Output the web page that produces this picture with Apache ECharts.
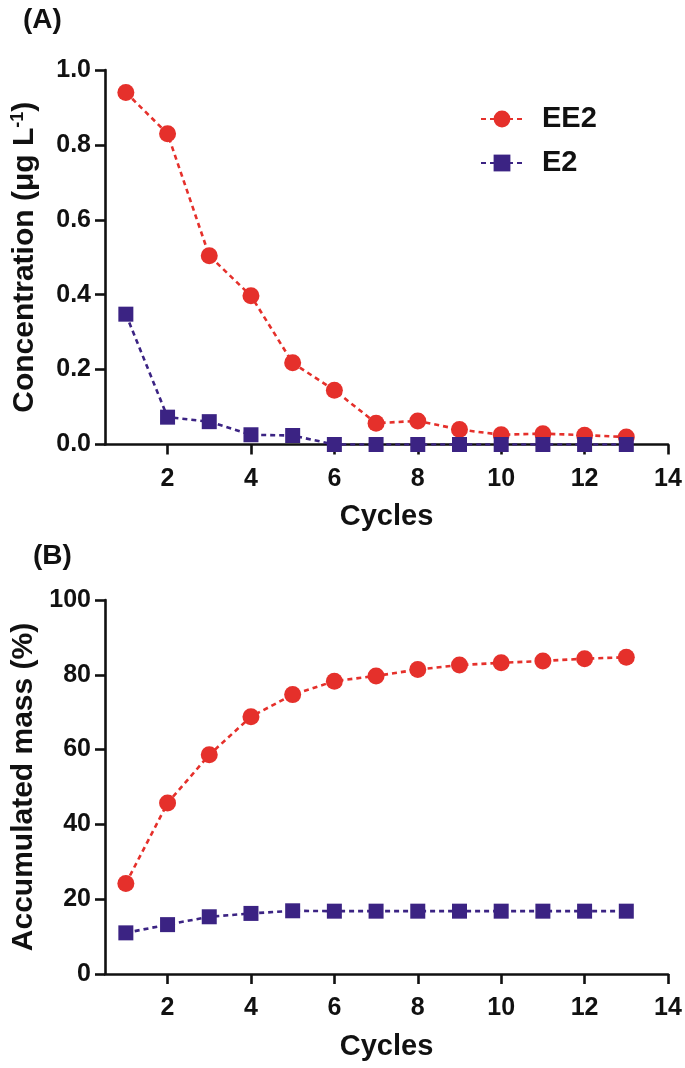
<!DOCTYPE html>
<html>
<head>
<meta charset="utf-8">
<script src="https://cdn.jsdelivr.net/npm/echarts@6/dist/echarts.min.js"></script>
<style>
html,body{margin:0;padding:0;background:#fff;}
#chart{width:685px;height:1068px;}
</style>
</head>
<body>
<div id="chart"></div>
<script>
// ---- data ----
var cycles = [1,2,3,4,5,6,7,8,9,10,11,12,13];
var concEE2 = [0.94,0.83,0.504,0.397,0.218,0.145,0.057,0.063,0.040,0.026,0.029,0.025,0.020];
var concE2  = [0.348,0.073,0.061,0.026,0.024,0,0,0,0,0,0,0,0];
var massEE2 = [24.2,45.7,58.6,68.8,74.7,78.3,79.7,81.4,82.6,83.2,83.7,84.3,84.7];
var massE2  = [11.0,13.2,15.3,16.2,16.9,16.8,16.8,16.8,16.8,16.8,16.8,16.8,16.8];
var xTicks = [2,4,6,8,10,12,14];
var concTicks = [0,0.2,0.4,0.6,0.8,1.0];
var massTicks = [0,20,40,60,80,100];

function pairs(ys){ return cycles.map(function(c,i){ return [c, ys[i]]; }); }

var RED = '#E5302B', PURPLE = '#3B2383', FONT = 'Liberation Sans';
var chart = echarts.init(document.getElementById('chart'), null, {renderer:'canvas'});

function xAxisCfg(gi){
  return {
    type:'value', gridIndex:gi, min:0.5, max:14,
    axisLine:{show:true, lineStyle:{color:'#111', width:2.6}},
    axisTick:{show:true, length:10, customValues:xTicks, lineStyle:{color:'#111', width:2.6}},
    axisLabel:{customValues:xTicks, margin:22, color:'#111', fontSize:25, fontWeight:'bold', fontFamily:FONT},
    splitLine:{show:false},
    name:'Cycles', nameLocation:'middle', nameGap:58,
    nameTextStyle:{color:'#111', fontSize:29, fontWeight:'bold', fontFamily:FONT}
  };
}
function yAxisCfg(gi, min, max, ticks, fmt, name){
  return {
    type:'value', gridIndex:gi, min:min, max:max,
    axisLine:{show:true, lineStyle:{color:'#111', width:2.6}},
    axisTick:{show:true, length:10, customValues:ticks, lineStyle:{color:'#111', width:2.6}},
    axisLabel:{customValues:ticks, margin:14, color:'#111', fontSize:25, fontWeight:'bold', fontFamily:FONT, formatter:fmt},
    splitLine:{show:false},
    name:name, nameLocation:'middle', nameGap:64, nameRotate:90,
    nameTextStyle:{color:'#111', fontSize:30, fontWeight:'bold', fontFamily:FONT,
      rich:{
        n:{fontSize:30, fontWeight:'bold', fontFamily:FONT, color:'#111'},
        sup:{fontSize:18, fontWeight:'bold', fontFamily:FONT, color:'#111', verticalAlign:'top', padding:[0,0,14,0]}
      }}
  };
}
function lineSeries(name, gi, ys, color, symbol, size){
  return {
    name:name, type:'line', xAxisIndex:gi, yAxisIndex:gi, data:pairs(ys),
    symbol:symbol, symbolSize:size, showSymbol:true,
    lineStyle:{color:color, width:2.6, type:[5,4]},
    itemStyle:{color:color, borderWidth:0},
    emphasis:{disabled:true}, animation:false
  };
}

chart.setOption({
  backgroundColor:'#fff',
  animation:false,
  title:[
    {text:'(A)', left:18, top:1, textStyle:{fontSize:28, fontWeight:'bold', color:'#111', fontFamily:FONT}},
    {text:'(B)', left:28, top:537, textStyle:{fontSize:28, fontWeight:'bold', color:'#111', fontFamily:FONT}}
  ],
  legend:{
    orient:'vertical', left:475, top:98, itemWidth:42, itemHeight:21, itemGap:12,
    data:['EE2','E2'],
    textStyle:{fontSize:29, fontWeight:'bold', color:'#111', fontFamily:FONT, padding:[0,0,0,14], lineHeight:32}
  },
  grid:[
    {left:105, width:563, top:70, height:374.5},
    {left:105, width:563, top:600, height:374}
  ],
  xAxis:[xAxisCfg(0), xAxisCfg(1)],
  yAxis:[
    yAxisCfg(0, 0, 1, concTicks, function(v){ return v.toFixed(1); }, '{n|Concentration (\u03bcg L}{sup|-1}{n|)}'),
    yAxisCfg(1, 0, 100, massTicks, function(v){ return String(v); }, 'Accumulated mass (%)')
  ],
  series:[
    lineSeries('EE2', 0, concEE2, RED, 'circle', 17),
    lineSeries('E2', 0, concE2, PURPLE, 'rect', 15),
    lineSeries('EE2', 1, massEE2, RED, 'circle', 17),
    lineSeries('E2', 1, massE2, PURPLE, 'rect', 15)
  ]
});
</script>
</body>
</html>
